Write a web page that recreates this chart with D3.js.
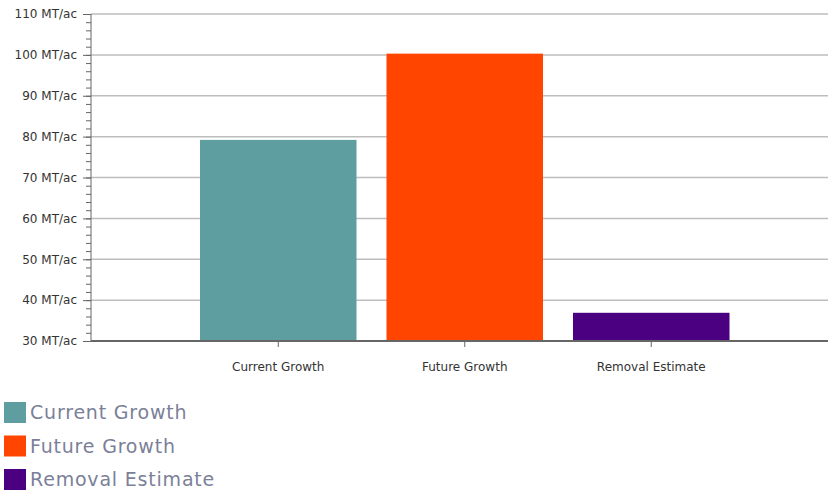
<!DOCTYPE html>
<html>
<head>
<meta charset="utf-8">
<script src="https://cdn.jsdelivr.net/npm/d3@7"></script>
<style>
  body { margin: 0; background: #fff; }
  svg { font-family: "DejaVu Sans", Verdana, sans-serif; }
  .grid line { stroke: #bdbdbd; stroke-width: 1.5; }
  .axis text { fill: #333; font-size: 12px; font-family: "DejaVu Sans", Verdana, sans-serif; }
  .axis path, .axis line { stroke: #666; }
  .legend text { fill: #7b7f98; font-size: 19px; letter-spacing: 0.8px; }
</style>
</head>
<body>
<div class="chart"></div>
<script>
var categories = ["Current Growth", "Future Growth", "Removal Estimate"];
var values = [79.2, 100.3, 36.9];
var colors = ["#5F9EA0", "#FF4500", "#4B0082"];
var yTicks = [30, 40, 50, 60, 70, 80, 90, 100, 110];

var width = 828, height = 493;
var plotLeft = 91, plotTop = 14, plotBottom = 341;

var svg = d3.select(".chart").append("svg")
    .attr("width", width)
    .attr("height", height);

var x = d3.scaleBand()
  .domain(categories)
  .range([185, 185 + 3 * 186.5])
  .paddingInner(30 / 186.5)
  .paddingOuter(15 / 186.5);

var y = d3.scaleLinear()
  .domain([30, 110])
  .range([plotBottom, plotTop]);

// gridlines
svg.append("g")
  .attr("class", "grid")
  .selectAll("line")
  .data(yTicks.slice(1))
  .enter().append("line")
    .attr("x1", plotLeft)
    .attr("x2", width)
    .attr("y1", function (d) { return y(d); })
    .attr("y2", function (d) { return y(d); });

// bars
svg.selectAll(".bar")
  .data(values)
  .enter().append("rect")
    .attr("class", "bar")
    .attr("x", function (d, i) { return x(categories[i]); })
    .attr("width", x.bandwidth())
    .attr("y", function (d) { return y(d); })
    .attr("height", function (d) { return plotBottom - y(d); })
    .style("fill", function (d, i) { return colors[i]; });

// minor ticks on y axis
svg.append("g")
  .attr("class", "axis")
  .attr("transform", "translate(" + plotLeft + ",0)")
  .call(d3.axisLeft(y).tickValues(d3.range(30, 111, 2)).tickSize(5).tickFormat(""))
  .call(function (g) { g.select(".domain").remove(); });

var yAxis = svg.append("g")
  .attr("class", "axis")
  .attr("transform", "translate(" + plotLeft + ",0)")
  .call(d3.axisLeft(y).tickValues(yTicks).tickSize(8).tickPadding(6)
    .tickFormat(function (d) { return d + " MT/ac"; }));
yAxis.select(".domain").attr("d", "M0," + plotTop + "V" + plotBottom);

var xAxis = svg.append("g")
  .attr("class", "axis")
  .attr("transform", "translate(0," + plotBottom + ")")
  .call(d3.axisBottom(x).tickSize(6).tickPadding(15));
xAxis.select(".domain").attr("d", "M" + plotLeft + ",0H" + width).style("stroke-width", 2);

// legend
var legend = svg.append("g")
  .attr("class", "legend")
  .selectAll("g")
  .data(categories)
  .enter().append("g")
    .attr("transform", function (d, i) { return "translate(4," + (402 + i * 33.5) + ")"; });

legend.append("rect")
  .attr("width", 22)
  .attr("height", 21)
  .style("fill", function (d, i) { return colors[i]; });

legend.append("text")
  .attr("x", 26)
  .attr("y", 17)
  .text(function (d) { return d; });
</script>
</body>
</html>
